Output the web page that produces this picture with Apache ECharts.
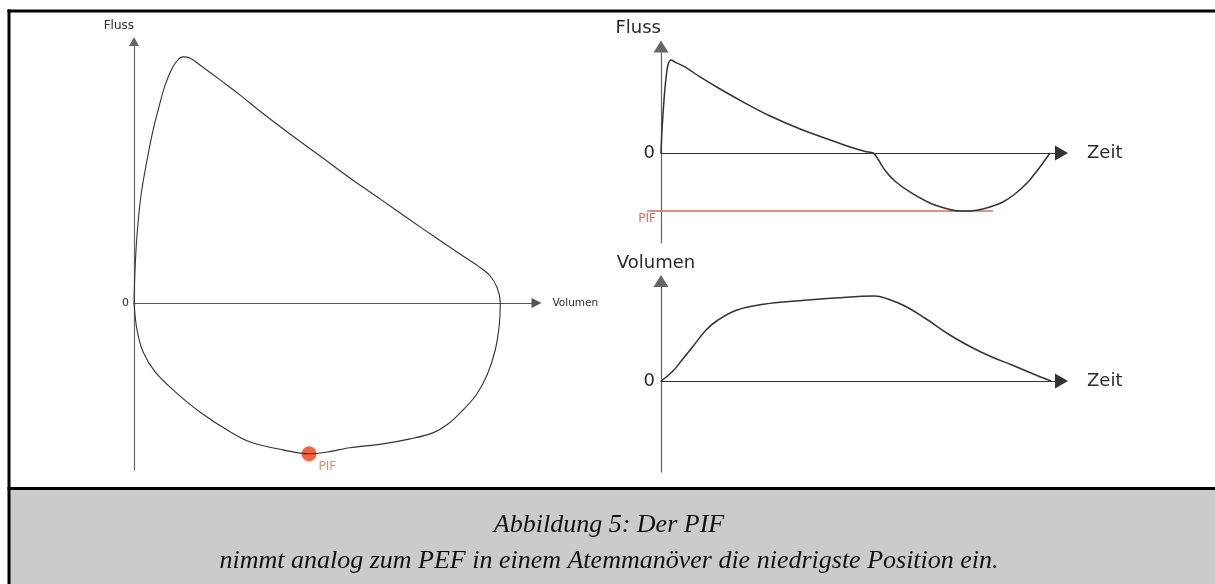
<!DOCTYPE html>
<html>
<head>
<meta charset="utf-8">
<script src="https://cdn.jsdelivr.net/npm/echarts@6/dist/echarts.min.js"></script>
<style>
  html, body { margin: 0; padding: 0; background: #ffffff; }
  #chart { width: 1215px; height: 584px; }
</style>
</head>
<body>
<div id="chart"></div>
<script>
// Flow-volume loop: [volume (L), flow (L/s)], expiration on top, inspiration below
const loopPoints = [
  [0, 0], [0.02, 1.26], [0.06, 2.6], [0.14, 4.13], [0.26, 5.47], [0.38, 6.62],
  [0.48, 7.38], [0.62, 8.34], [0.76, 8.99], [0.87, 9.29], [0.97, 9.41], [1.11, 9.37],
  [1.31, 9.1], [1.71, 8.53], [2.11, 7.95], [2.5, 7.34], [3.1, 6.46], [3.7, 5.62],
  [4.29, 4.78], [4.89, 3.98], [5.49, 3.17], [5.98, 2.52], [6.48, 1.87], [6.84, 1.41],
  [7.08, 1.03], [7.22, 0.57], [7.28, 0],
  [7.26, -0.84], [7.18, -1.8], [7.02, -2.75], [6.8, -3.52], [6.54, -4.09],
  [6.24, -4.63], [5.94, -4.97], [5.49, -5.2], [4.95, -5.39], [4.29, -5.54],
  [3.84, -5.7], [3.48, -5.77], [2.96, -5.62], [2.31, -5.32], [1.91, -4.93],
  [1.31, -4.17], [0.82, -3.4], [0.42, -2.64], [0.18, -1.87], [0.06, -1.03], [0, 0]
];
// Peak inspiratory flow on the loop
const pifPoint = [3.48, -5.77];

// Flow over time: [time (s), flow (L/s)]
const flowTimePoints = [
  [0, 0], [0.02, 2.16], [0.06, 4.98], [0.1, 7.04], [0.14, 8.26], [0.2, 8.73],
  [0.28, 8.54], [0.48, 8.08], [0.78, 7.14], [1.18, 6.01], [1.68, 4.69], [2.18, 3.47],
  [2.78, 2.25], [3.38, 1.22], [3.78, 0.56], [4.08, 0.14], [4.24, 0],
  [4.32, -0.47], [4.47, -1.6], [4.67, -2.63], [4.97, -3.66], [5.37, -4.69],
  [5.73, -5.26], [5.97, -5.45], [6.27, -5.4], [6.57, -5.07], [6.83, -4.6],
  [7.07, -3.85], [7.33, -2.72], [7.57, -1.31], [7.77, 0]
];
// PIF level and the span of its reference line (time)
const pifFlow = -5.45;
const pifLineSpan = [-0.28, 6.63];

// Volume over time: [time (s), volume (L)]
const volumeTimePoints = [
  [0, 0], [0.22, 0.36], [0.42, 0.84], [0.66, 1.44], [0.9, 2.04], [1.14, 2.44],
  [1.52, 2.84], [2.08, 3.08], [2.7, 3.2], [3.48, 3.32], [4.27, 3.4], [4.53, 3.28],
  [4.87, 3.0], [5.27, 2.52], [5.77, 1.84], [6.23, 1.32], [6.61, 0.96], [7.01, 0.64],
  [7.39, 0.32], [7.79, 0]
];

const captionLines = [
  'Abbildung 5: Der PIF',
  'nimmt analog zum PEF in einem Atemmanöver die niedrigste Position ein.'
];

const SANS = 'DejaVu Sans';
const TEXT = '#2a2a2a';
const CURVE = '#333333';
const PIF_COLOR = '#e2694a';

function xAxis(gridIndex, max, name, cfg) {
  return {
    type: 'value', gridIndex: gridIndex, min: 0, max: max,
    name: name, nameLocation: 'end', nameGap: cfg.gap,
    nameTextStyle: {
      fontFamily: SANS, fontSize: cfg.fontSize, color: TEXT,
      verticalAlign: 'middle', padding: [cfg.drop * 2, 0, 0, 0]
    },
    axisLine: {
      onZero: true, symbol: ['none', 'triangle'], symbolSize: cfg.arrow,
      lineStyle: { color: cfg.color, width: 1.2 }
    },
    axisTick: { show: false }, axisLabel: { show: false }, splitLine: { show: false }
  };
}

function yAxis(gridIndex, min, max, name, cfg) {
  return {
    type: 'value', gridIndex: gridIndex, min: min, max: max,
    name: name, nameLocation: 'end', nameGap: cfg.gap,
    nameTextStyle: {
      fontFamily: SANS, fontSize: cfg.fontSize, color: TEXT,
      align: cfg.align, padding: cfg.namePad || 0
    },
    axisLine: {
      onZero: true, symbol: ['none', 'triangle'], symbolSize: cfg.arrow,
      lineStyle: { color: cfg.color, width: 1.2 }
    },
    axisTick: { show: false },
    axisLabel: {
      customValues: [0], fontFamily: SANS, fontSize: cfg.labelSize,
      color: TEXT, margin: cfg.labelMargin
    },
    splitLine: { show: false }
  };
}

// hidden axis pair for the PIF reference line, which starts left of the flow axis
const hiddenAxis = (gridIndex, min, max) => ({
  type: 'value', gridIndex: gridIndex, min: min, max: max, show: false
});

const chart = echarts.init(document.getElementById('chart'), null, { renderer: 'canvas' });

chart.setOption({
  backgroundColor: '#ffffff',
  animation: false,
  grid: [
    { left: 134, top: 41.5, width: 402.5, height: 428.5 },
    { left: 661, top: 46.5, width: 400.5, height: 196.5 },
    { left: 661, top: 281, width: 400.5, height: 191 },
    // same scale as grid 1, widened to the left by 0.28 s
    { left: 661 - 0.28 * 400.5 / 8, top: 46.5, width: 400.5 * 8.28 / 8, height: 196.5 }
  ],
  xAxis: [
    xAxis(0, 8, 'Volumen', { gap: 16, fontSize: 10.5, drop: 11, arrow: [10, 10], color: '#555' }),
    xAxis(1, 8, 'Zeit', { gap: 25.5, fontSize: 18, drop: 17, arrow: [15, 13], color: '#333' }),
    xAxis(2, 8, 'Zeit', { gap: 25.5, fontSize: 18, drop: 17, arrow: [15, 13], color: '#333' }),
    hiddenAxis(3, -0.28, 8)
  ],
  yAxis: [
    yAxis(0, -6.39, 10, 'Fluss', { gap: 10, fontSize: 12, align: 'right', arrow: [10, 9], color: '#666', labelSize: 11, labelMargin: 5 }),
    yAxis(1, -8.45, 10, 'Fluss', { gap: 9.5, fontSize: 18, align: 'right', arrow: [15, 12], color: '#666', labelSize: 18, labelMargin: 6 }),
    yAxis(2, -3.64, 4, 'Volumen', { gap: 9, fontSize: 18, align: 'center', namePad: [0, 10, 0, 0], arrow: [15, 12], color: '#666', labelSize: 18, labelMargin: 6 }),
    hiddenAxis(3, -8.45, 10)
  ],
  series: [
    {
      type: 'line', xAxisIndex: 0, yAxisIndex: 0, data: loopPoints,
      showSymbol: false, smooth: 0.35, clip: false,
      lineStyle: { color: CURVE, width: 1.1 }
    },
    {
      type: 'scatter', xAxisIndex: 0, yAxisIndex: 0, data: [pifPoint],
      symbolSize: 15, itemStyle: { color: '#f23c12' },
      label: {
        show: true, formatter: 'PIF', position: [17, 21],
        align: 'left', verticalAlign: 'middle',
        fontFamily: SANS, fontSize: 12, color: PIF_COLOR
      }
    },
    {
      type: 'line', xAxisIndex: 3, yAxisIndex: 3,
      data: [
        { value: [pifLineSpan[0], pifFlow], label: { show: true } },
        [pifLineSpan[1], pifFlow]
      ],
      symbol: 'circle', symbolSize: 0.01, showSymbol: true,
      itemStyle: { color: PIF_COLOR },
      lineStyle: { color: PIF_COLOR, width: 1.4 },
      label: {
        show: false, formatter: 'PIF', position: 'bottom', distance: 2,
        fontFamily: SANS, fontSize: 12, color: PIF_COLOR
      },
      z: 1
    },
    {
      type: 'line', xAxisIndex: 1, yAxisIndex: 1, data: flowTimePoints,
      showSymbol: false, smooth: 0.3, clip: false,
      lineStyle: { color: CURVE, width: 1.5 }, z: 3
    },
    {
      type: 'line', xAxisIndex: 2, yAxisIndex: 2, data: volumeTimePoints,
      showSymbol: false, smooth: 0.4, clip: false,
      lineStyle: { color: CURVE, width: 1.5 }
    }
  ],
  graphic: [
    // caption panel
    { type: 'rect', shape: { x: 9, y: 490, width: 1206, height: 94 }, style: { fill: '#cbcbcb' }, z: 0, silent: true },
    // frame
    { type: 'line', shape: { x1: 7.5, y1: 11, x2: 1215, y2: 11 }, style: { stroke: '#000', lineWidth: 3 }, z: 10, silent: true },
    { type: 'line', shape: { x1: 9, y1: 9.5, x2: 9, y2: 584 }, style: { stroke: '#000', lineWidth: 3 }, z: 10, silent: true },
    { type: 'line', shape: { x1: 7.5, y1: 488.5, x2: 1215, y2: 488.5 }, style: { stroke: '#000', lineWidth: 3 }, z: 10, silent: true },
    {
      type: 'text', x: 609, y: 525, z: 10, silent: true,
      style: {
        text: captionLines[0], fill: '#111', align: 'center', verticalAlign: 'middle',
        font: 'italic 26px "Liberation Serif", "DejaVu Serif", serif'
      }
    },
    {
      type: 'text', x: 609, y: 561, z: 10, silent: true,
      style: {
        text: captionLines[1], fill: '#111', align: 'center', verticalAlign: 'middle',
        font: 'italic 26px "Liberation Serif", "DejaVu Serif", serif'
      }
    }
  ]
});
</script>
</body>
</html>
